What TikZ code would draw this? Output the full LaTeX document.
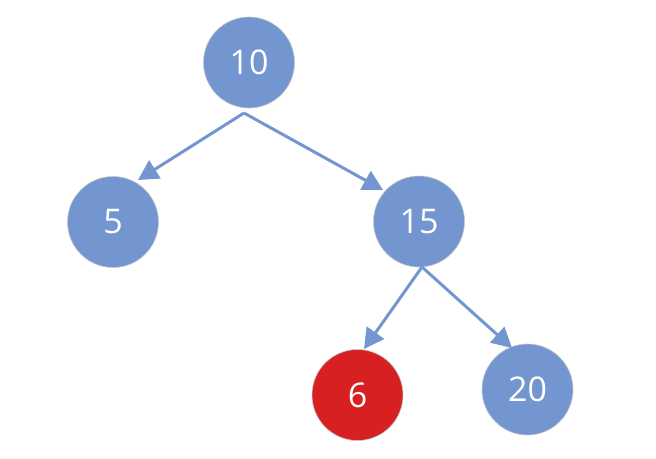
\documentclass[tikz,border=0pt]{standalone}
\usepackage{fontspec}
\setmainfont{Open Sans}
\usetikzlibrary{arrows.meta}
\definecolor{nodeblue}{RGB}{116,150,208}
\definecolor{nodered}{RGB}{214,32,34}
\begin{document}
\begin{tikzpicture}[x=1pt,y=-1pt,
  treenode/.style={circle,minimum size=91pt,inner sep=0pt,outer sep=0pt,fill=nodeblue,draw=gray!45,line width=0.6pt,text=white,font=\fontsize{34}{40}\selectfont},
  rednode/.style={treenode,fill=nodered},
  edge/.style={draw=nodeblue,line width=3pt,-{Triangle[length=20pt,width=21pt]}}]
\useasboundingbox (0,0) rectangle (656,458);
\node[treenode] (n10) at (249,62.5) {10};
\node[treenode] (n5) at (113,222) {5};
\node[treenode] (n15) at (419,221.5) {15};
\node[rednode] (n6) at (357.5,395) {6};
\node[treenode] (n20) at (527.5,389.5) {20};
\coordinate (f10) at (244,113);
\coordinate (f15) at (422,267);
\coordinate (t5) at (138,180);
\coordinate (t15) at (383,190);
\coordinate (t6) at (364,349);
\coordinate (t20) at (512,348);
\draw[edge] (f10) -- (t5);
\draw[edge] (f10) -- (t15);
\draw[edge] (f15) -- (t6);
\draw[edge] (f15) -- (t20);
\end{tikzpicture}
\end{document}
